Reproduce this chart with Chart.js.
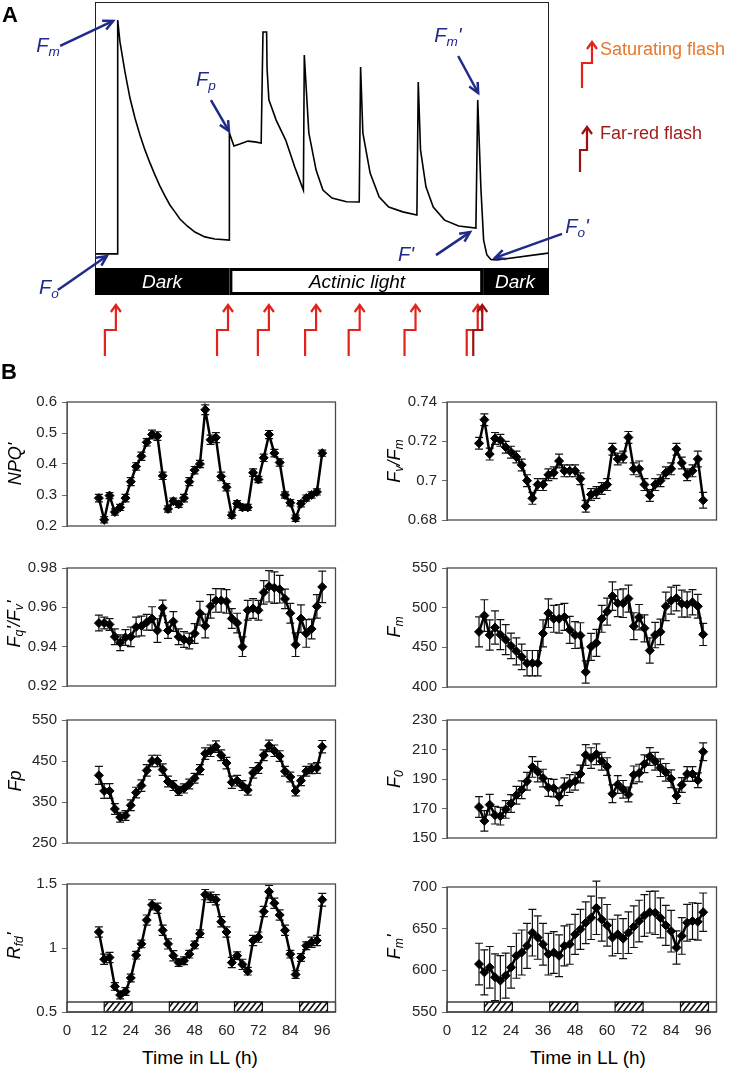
<!DOCTYPE html>
<html lang="en">
<head>
<meta charset="UTF-8" />
<meta name="viewport" content="width=device-width, initial-scale=1.0" />
<title>Chlorophyll fluorescence under LL</title>
<script src="https://cdn.jsdelivr.net/npm/chart.js@4.4.1/dist/chart.umd.min.js"></script>
<style>
  body { margin: 0; background: #fff; }
  #page { position: relative; width: 734px; height: 1077px; overflow: hidden; font-family: "Liberation Sans", Arial, sans-serif; color: #000; }
  #page canvas { position: absolute; }
  .txt { position: absolute; white-space: nowrap; line-height: 1; transform: translate(-50%, -50%); }
  .panel { font-size: 22px; font-weight: bold; }
  .ann { font-size: 20px; font-style: italic; color: #1f2a8a; }
  .ann sub, .ytitle sub { font-size: 0.68em; vertical-align: -0.3em; }
  .phase { font-size: 19px; font-style: italic; }
  .legend { position: absolute; font-size: 18px; white-space: nowrap; line-height: 1; transform: translateY(-50%); }
  .ytitle { font-size: 18px; font-style: italic; transform: translate(-50%, -50%) rotate(-90deg); }
  .xtitle { font-size: 19px; }
</style>
</head>
<body>
<div id="page">
  <canvas id="trace" width="734" height="372" style="left:0;top:0"></canvas>

  <canvas id="cNpq" width="324" height="152" style="left:17px;top:388px"></canvas>
  <canvas id="cFvFm" width="325" height="146" style="left:397px;top:388px"></canvas>
  <canvas id="cFqFv" width="324" height="146" style="left:17px;top:554px"></canvas>
  <canvas id="cFm" width="325" height="147" style="left:397px;top:554px"></canvas>
  <canvas id="cFp" width="324" height="151" style="left:17px;top:706px"></canvas>
  <canvas id="cF0" width="325" height="146" style="left:397px;top:706px"></canvas>
  <canvas id="cRfd" width="324" height="174" style="left:17px;top:870px"></canvas>
  <canvas id="cFmp" width="325" height="171" style="left:397px;top:873px"></canvas>

  <!-- panel A texts -->
  <div class="txt panel" style="left:10px;top:15px">A</div>
  <div class="txt ann" style="left:48px;top:47px">F<sub>m</sub></div>
  <div class="txt ann" style="left:206px;top:81px">F<sub>p</sub></div>
  <div class="txt ann" style="left:448px;top:37px">F<sub>m</sub>'</div>
  <div class="txt ann" style="left:406px;top:254px">F'</div>
  <div class="txt ann" style="left:577px;top:228px">F<sub>o</sub>'</div>
  <div class="txt ann" style="left:49px;top:289px">F<sub>o</sub></div>
  <div class="txt phase" style="left:162px;top:281px;color:#fff">Dark</div>
  <div class="txt phase" style="left:357px;top:281px">Actinic light</div>
  <div class="txt phase" style="left:515px;top:281px;color:#fff">Dark</div>
  <div class="legend" style="left:600px;top:49px;color:#e8762b">Saturating flash</div>
  <div class="legend" style="left:600px;top:133px;color:#9e1b1b">Far-red flash</div>

  <!-- panel B texts -->
  <div class="txt panel" style="left:9px;top:372px">B</div>
  <div class="txt ytitle" style="left:15px;top:464px">NPQ'</div>
  <div class="txt ytitle" style="left:395px;top:461px">F<sub>v</sub>/F<sub>m</sub></div>
  <div class="txt ytitle" style="left:15px;top:624px">F<sub>q</sub>'/F<sub>v</sub>'</div>
  <div class="txt ytitle" style="left:395px;top:627px">F<sub>m</sub></div>
  <div class="txt ytitle" style="left:15px;top:781px">Fp</div>
  <div class="txt ytitle" style="left:395px;top:779px">F<sub>0</sub></div>
  <div class="txt ytitle" style="left:15px;top:946px">R<sub>fd</sub>'</div>
  <div class="txt ytitle" style="left:395px;top:947px">F<sub>m</sub>'</div>
  <div class="txt xtitle" style="left:200px;top:1057px">Time in LL (h)</div>
  <div class="txt xtitle" style="left:588px;top:1057px">Time in LL (h)</div>
</div>

<script>
// ---- panel A: fluorescence trace (arbitrary time / signal units) ----
const traceTime = [0, 5, 5, 5.5, 6.6, 7.7, 8.8, 9.9, 11, 12.1, 13.2, 14.3, 15.4, 16.5, 17.6, 18.7, 20.3, 22, 24.2, 26.4,
  29.6, 29.6, 30.6, 31.9, 33.7, 35.2, 36.6, 37, 37.8, 37.9, 38.3, 39.9, 42, 44, 45.9,
  46.1, 47.1, 48.7, 50.2, 52.2, 55.4, 58.2, 58.5, 59, 60.6, 62.6, 64.7, 67.8, 70.9,
  71.2, 71.7, 72.9, 74.5, 77, 80.1, 83.9, 84.3, 85, 85.6, 86.3, 87.2, 88.5, 99.8];
const traceSignal = [5.3, 5.3, 93.2, 85, 73.7, 63.9, 56.4, 50, 44.4, 39.5, 35, 30.8, 27.1, 23.7, 21.1, 18.4, 15.8, 13.5, 11.7, 10.9,
  10.5, 50.8, 45.9, 46.6, 47.7, 47.4, 47, 88.7, 88.7, 75, 63.2, 55.6, 48.1, 38, 29.3,
  80.1, 50.8, 36.8, 29.3, 26.3, 24.9, 24.8, 75.6, 50.8, 35.7, 26.7, 22.9, 21.1, 19.9,
  69.9, 44.4, 30.5, 22.9, 18, 15.8, 15, 63.2, 30, 10.5, 5, 3.2, 3, 5.6];
const phaseStart = [0, 29.6, 85.5];
const phaseEnd = [29.6, 85.5, 100];
const phaseDark = [true, false, true];
const flashTimes = [4.6, 29.3, 38.3, 48.7, 58.3, 70.6, 84.3];
const farRedTimes = [85.3];
// labelled points: Fm, Fp, Fm', F', Fo', Fo
const pointerTime = [4.0, 29.5, 84.4, 82.6, 88.1, 2.6];
const pointerSignal = [92.9, 51.5, 65.8, 13.5, 3.8, 4.5];

// ---- panel B: time courses in LL ----
const hours = [12, 14, 16, 18, 20, 22, 24, 26, 28, 30, 32, 34, 36, 38, 40, 42, 44, 46, 48, 50, 52, 54,
  56, 58, 60, 62, 64, 66, 68, 70, 72, 74, 76, 78, 80, 82, 84, 86, 88, 90, 92, 94, 96];
const xTicks = [0, 12, 24, 36, 48, 60, 72, 84, 96];
const nightStart = [14, 38.5, 63, 87.5];
const nightEnd = [24.5, 49, 73.5, 98];

const npq = [0.29, 0.22, 0.298, 0.245, 0.26, 0.29, 0.343, 0.392, 0.425, 0.47, 0.495, 0.49, 0.362, 0.255, 0.28,
  0.27, 0.29, 0.343, 0.38, 0.40, 0.575, 0.478, 0.485, 0.36, 0.325, 0.235, 0.272, 0.26, 0.26, 0.372, 0.35,
  0.42, 0.495, 0.435, 0.405, 0.30, 0.275, 0.225, 0.272, 0.29, 0.30, 0.31, 0.435];
const npqErr = [0.012, 0.01, 0.01, 0.01, 0.01, 0.012, 0.013, 0.012, 0.013, 0.012, 0.014, 0.014, 0.012, 0.01, 0.01,
  0.01, 0.012, 0.013, 0.012, 0.012, 0.016, 0.015, 0.016, 0.014, 0.012, 0.01, 0.01, 0.01, 0.01, 0.012, 0.01,
  0.012, 0.013, 0.012, 0.012, 0.01, 0.01, 0.01, 0.01, 0.01, 0.01, 0.01, 0.01];
const npqTicks = [0.2, 0.3, 0.4, 0.5, 0.6];

const fvfm = [0.719, 0.731, 0.7135, 0.7215, 0.7205, 0.717, 0.7145, 0.712, 0.708, 0.700, 0.691, 0.698, 0.698, 0.703,
  0.704, 0.710, 0.705, 0.705, 0.705, 0.701, 0.687, 0.693, 0.694, 0.696, 0.698, 0.716, 0.711, 0.712, 0.722,
  0.706, 0.706, 0.698, 0.6925, 0.698, 0.700, 0.704, 0.706, 0.716, 0.709, 0.703, 0.705, 0.711, 0.690];
const fvfmErr = [0.003, 0.003, 0.003, 0.003, 0.003, 0.003, 0.003, 0.003, 0.003, 0.003, 0.003, 0.003, 0.003, 0.003,
  0.003, 0.0035, 0.003, 0.003, 0.003, 0.003, 0.003, 0.003, 0.003, 0.003, 0.003, 0.003, 0.003, 0.003, 0.003,
  0.003, 0.004, 0.003, 0.003, 0.003, 0.003, 0.003, 0.003, 0.003, 0.003, 0.003, 0.003, 0.004, 0.004];
const fvfmTicks = [0.68, 0.7, 0.72, 0.74];

const fqfv = [0.952, 0.952, 0.9513, 0.945, 0.942, 0.9447, 0.945, 0.950, 0.9505, 0.9524, 0.9543, 0.9482, 0.9597,
  0.9482, 0.9528, 0.945, 0.9436, 0.9429, 0.9467, 0.957, 0.9505, 0.9605, 0.9635, 0.9635, 0.963, 0.9543, 0.952,
  0.940, 0.9585, 0.9594, 0.9585, 0.9676, 0.9707, 0.970, 0.9692, 0.9643, 0.957, 0.941, 0.9543, 0.9467, 0.949,
  0.9605, 0.9704];
const fqfvErr = [0.004, 0.003, 0.003, 0.004, 0.004, 0.004, 0.005, 0.005, 0.005, 0.004, 0.006, 0.006, 0.004, 0.004,
  0.005, 0.004, 0.004, 0.004, 0.005, 0.006, 0.006, 0.006, 0.006, 0.006, 0.006, 0.005, 0.005, 0.005, 0.005,
  0.005, 0.005, 0.006, 0.008, 0.008, 0.007, 0.005, 0.005, 0.006, 0.007, 0.007, 0.005, 0.006, 0.008];
const fqfvTicks = [0.92, 0.94, 0.96, 0.98];

const fm = [469.5, 490, 465.5, 475, 466, 459.7, 451.8, 445, 438, 430, 430, 430, 467.5, 493, 486, 486, 488.3, 472,
  465.5, 465, 419, 450.6, 455.7, 486, 495, 514.6, 505.6, 505.6, 511.5, 476.6, 488, 474, 446, 465.5, 469.5,
  501.7, 508.8, 512, 505, 504, 506.8, 501.7, 466.3];
const fmErr = [19, 20, 19, 21, 19, 19, 16, 17, 16, 16, 16, 16, 17, 18, 17, 18, 17, 17, 17, 16, 14, 17, 17, 17,
  17, 18, 17, 18, 17, 17, 16, 17, 16, 16, 16, 18, 17, 16, 17, 16, 16, 15, 14];
const fmTicks = [400, 450, 500, 550];

const fp = [415, 377, 377, 333, 313, 317, 342, 373, 390, 427, 450, 450, 429, 400, 390, 377, 383, 394, 408, 429,
  468, 475, 485, 464, 445, 398, 402, 390, 379, 421, 433, 464, 487, 475, 462, 425, 411, 377, 402, 425, 431, 433, 485];
const fpErr = [22, 18, 18, 13, 12, 12, 13, 13, 14, 14, 14, 14, 14, 13, 12, 11, 11, 12, 12, 12, 14, 14, 14, 13,
  14, 15, 13, 12, 12, 13, 13, 13, 14, 14, 13, 12, 12, 12, 12, 12, 12, 13, 15];
const fpTicks = [250, 350, 450, 550];

const f0 = [171, 161.6, 172.6, 165.5, 164.8, 169.4, 173.4, 179, 182.7, 188.5, 198.2, 195, 190.6, 184.2, 183.8,
  178, 184.8, 187, 188.5, 193.4, 206.3, 204.2, 206.8, 202, 198.4, 180, 186.3, 183, 179.5, 192.8, 194, 200.3,
  205.3, 202, 197.7, 194.5, 190.2, 178.4, 186, 193.4, 193.4, 189.1, 208.5];
const f0Err = [7, 7, 7, 6, 6, 6, 6, 6, 6, 6, 7, 7, 6, 6, 6, 6, 6, 6, 6, 6, 7, 7, 7, 6, 6, 6, 6, 6, 5, 6, 6, 6,
  6, 6, 6, 6, 6, 5, 5, 5, 5, 5, 6];
const f0Ticks = [150, 170, 190, 210, 230];

const rfd = [1.125, 0.912, 0.926, 0.70, 0.633, 0.66, 0.766, 0.944, 1.032, 1.218, 1.337, 1.311, 1.138, 1.032, 0.94,
  0.886, 0.90, 0.952, 1.024, 1.112, 1.417, 1.396, 1.377, 1.205, 1.125, 0.886, 0.94, 0.872, 0.819, 1.058, 1.085,
  1.285, 1.44, 1.35, 1.258, 1.138, 0.952, 0.793, 0.926, 1.018, 1.045, 1.058, 1.377];
const rfdErr = [0.04, 0.04, 0.04, 0.03, 0.03, 0.03, 0.03, 0.03, 0.03, 0.04, 0.04, 0.04, 0.04, 0.04, 0.04, 0.03,
  0.03, 0.03, 0.03, 0.03, 0.04, 0.04, 0.04, 0.04, 0.04, 0.04, 0.03, 0.04, 0.03, 0.04, 0.04, 0.04, 0.05, 0.04,
  0.04, 0.04, 0.03, 0.03, 0.03, 0.03, 0.04, 0.04, 0.05];
const rfdTicks = [0.5, 1, 1.5];

const fmp = [607.5, 597.6, 603.6, 591.7, 587.7, 593.7, 603.6, 617.5, 621.4, 629.4, 645.2, 639.3, 631.3, 619.4,
  621.4, 617.5, 629.4, 631.3, 643.2, 649.2, 657.1, 663, 675, 661, 654, 639.3, 643.2, 638, 645.2, 652.4, 659.1,
  665.8, 669.8, 669, 663, 654, 647, 627.4, 641.3, 657.1, 659.1, 658.3, 669.8];
const fmpErr = [25, 27, 25, 28, 30, 27, 25, 27, 27, 27, 28, 26, 25, 25, 25, 25, 24, 24, 24, 24, 25, 26, 32, 26,
  25, 22, 23, 24, 25, 25, 25, 25, 25, 26, 24, 24, 25, 20, 22, 22, 22, 22, 23];
const fmpTicks = [550, 600, 650, 700];

Chart.defaults.font.family = "'Liberation Sans', Arial, sans-serif";

const RED = '#e3231b';
const DARK_RED = '#9b1111';
const NAVY = '#1f2a8a';
const AXIS_GREY = '#6b6b6b';

function stepArrow(ctx, x, top, step, bottom, off, color) {
  ctx.save();
  ctx.strokeStyle = color;
  ctx.lineWidth = 2.2;
  ctx.beginPath();
  ctx.moveTo(x - off, bottom);
  ctx.lineTo(x - off, step);
  ctx.lineTo(x, step);
  ctx.lineTo(x, top + 1);
  ctx.stroke();
  ctx.beginPath();
  ctx.moveTo(x - 5, top + 7);
  ctx.lineTo(x, top);
  ctx.lineTo(x + 5, top + 7);
  ctx.stroke();
  ctx.restore();
}

function pointer(ctx, x0, y0, x1, y1) {
  const a = Math.atan2(y1 - y0, x1 - x0), len = 11, spread = 0.45;
  ctx.beginPath();
  ctx.moveTo(x0, y0);
  ctx.lineTo(x1, y1);
  ctx.stroke();
  ctx.beginPath();
  ctx.moveTo(x1 - len * Math.cos(a - spread), y1 - len * Math.sin(a - spread));
  ctx.lineTo(x1, y1);
  ctx.lineTo(x1 - len * Math.cos(a + spread), y1 - len * Math.sin(a + spread));
  ctx.stroke();
}

// box, light regime bar, flash arrows and labelled pointers for panel A
const protocolPlugin = {
  id: 'protocol',
  afterDatasetsDraw(chart) {
    const { ctx, chartArea: area, scales: { x, y } } = chart;
    ctx.save();
    ctx.strokeStyle = '#222';
    ctx.lineWidth = 1;
    ctx.strokeRect(area.left + 0.5, area.top + 0.5, area.width - 1, area.height);

    const barTop = area.bottom, barH = 27;
    phaseStart.forEach((s, i) => {
      const x0 = x.getPixelForValue(s), x1 = x.getPixelForValue(phaseEnd[i]);
      if (phaseDark[i]) {
        ctx.fillStyle = '#000';
        ctx.fillRect(x0, barTop, x1 - x0, barH);
      } else {
        ctx.fillStyle = '#fff';
        ctx.fillRect(x0, barTop, x1 - x0, barH);
        ctx.strokeStyle = '#000';
        ctx.lineWidth = 3;
        ctx.strokeRect(x0 + 1.5, barTop + 1.5, x1 - x0 - 3, barH - 3);
      }
    });

    flashTimes.forEach(t => stepArrow(ctx, x.getPixelForValue(t), barTop + 37, barTop + 62, barTop + 88, 11, RED));
    farRedTimes.forEach(t => stepArrow(ctx, x.getPixelForValue(t), barTop + 37, barTop + 62, barTop + 88, 9, DARK_RED));

    // legend symbols
    stepArrow(ctx, 592, 42, 63, 88, 10, RED);
    stepArrow(ctx, 587, 127, 150, 172, 7, DARK_RED);

    ctx.strokeStyle = NAVY;
    ctx.lineWidth = 2.5;
    const tailDx = [-53, -18, -20, -34, 67, -49];
    const tailDy = [25, -31, -37, 23, -24, 34];
    pointerTime.forEach((t, i) => {
      const px = x.getPixelForValue(t), py = y.getPixelForValue(pointerSignal[i]);
      pointer(ctx, px + tailDx[i], py + tailDy[i], px, py);
    });
    ctx.restore();
  }
};

new Chart(document.getElementById('trace'), {
  type: 'line',
  data: {
    datasets: [{
      data: traceTime.map((t, i) => ({ x: t, y: traceSignal[i] })),
      borderColor: '#000',
      borderWidth: 1.6,
      pointRadius: 0,
      tension: 0,
      fill: false
    }]
  },
  options: {
    responsive: false,
    animation: false,
    devicePixelRatio: 1,
    layout: { padding: { left: 95, right: 185, top: 2, bottom: 104 } },
    plugins: { legend: { display: false }, tooltip: { enabled: false } },
    scales: {
      x: { type: 'linear', min: 0, max: 100, display: false },
      y: { min: 0, max: 100, display: false }
    }
  },
  plugins: [protocolPlugin]
});

// ---- panel B helpers ----
const errorBarPlugin = {
  id: 'errorBars',
  beforeDatasetsDraw(chart, args, opts) {
    const err = opts.errors;
    if (!err) return;
    const { ctx, scales: { x, y } } = chart;
    ctx.save();
    ctx.strokeStyle = '#111';
    ctx.lineWidth = 1.2;
    chart.data.datasets[0].data.forEach((p, i) => {
      const px = x.getPixelForValue(p.x);
      const yt = y.getPixelForValue(p.y + err[i]);
      const yb = y.getPixelForValue(p.y - err[i]);
      ctx.beginPath();
      ctx.moveTo(px, yt); ctx.lineTo(px, yb);
      ctx.moveTo(px - 4, yt); ctx.lineTo(px + 4, yt);
      ctx.moveTo(px - 4, yb); ctx.lineTo(px + 4, yb);
      ctx.stroke();
    });
    ctx.restore();
  }
};

// white/hatched bar marking subjective day and night
const llBarPlugin = {
  id: 'llBar',
  afterDatasetsDraw(chart, args, opts) {
    if (!opts.show) return;
    const { ctx, chartArea: a, scales: { x } } = chart;
    const h = 10, top = a.bottom - h;
    ctx.save();
    ctx.fillStyle = '#fff';
    ctx.fillRect(a.left, top, a.width, h);
    ctx.strokeStyle = '#111';
    ctx.lineWidth = 1.2;
    ctx.strokeRect(a.left, top, a.width, h);
    nightStart.forEach((s, i) => {
      const x0 = x.getPixelForValue(s), x1 = x.getPixelForValue(nightEnd[i]);
      ctx.save();
      ctx.beginPath();
      ctx.rect(x0, top, x1 - x0, h);
      ctx.clip();
      ctx.beginPath();
      for (let sx = x0 - h; sx < x1 + h; sx += 6) {
        ctx.moveTo(sx, a.bottom);
        ctx.lineTo(sx + 8, top);
      }
      ctx.lineWidth = 1.6;
      ctx.stroke();
      ctx.restore();
      ctx.strokeRect(x0, top, x1 - x0, h);
    });
    ctx.restore();
  }
};

const framePlugin = {
  id: 'frame',
  afterDraw(chart) {
    const { ctx, chartArea: a } = chart;
    ctx.save();
    ctx.strokeStyle = '#4a4a4a';
    ctx.lineWidth = 1.3;
    ctx.strokeRect(a.left, a.top, a.width, a.height);
    ctx.restore();
  }
};

function seriesChart(id, values, errors, yMin, yMax, yTicks, bottomRow) {
  return new Chart(document.getElementById(id), {
    type: 'line',
    data: {
      datasets: [{
        data: hours.map((h, i) => ({ x: h, y: values[i] })),
        borderColor: '#000',
        borderWidth: 2.5,
        pointStyle: 'rectRot',
        pointRadius: 4.5,
        pointBackgroundColor: '#000',
        pointBorderColor: '#000',
        pointBorderWidth: 1,
        tension: 0
      }]
    },
    options: {
      responsive: false,
      animation: false,
      devicePixelRatio: 1,
      layout: { padding: { left: 0, right: 4, top: 10, bottom: bottomRow ? 2 : 10 } },
      plugins: {
        legend: { display: false },
        tooltip: { enabled: false },
        errorBars: { errors: errors },
        llBar: { show: bottomRow }
      },
      scales: {
        x: {
          type: 'linear', min: 0, max: 101, display: bottomRow,
          grid: { display: false, drawTicks: false },
          border: { display: false },
          ticks: { color: '#262626', font: { size: 15 }, padding: 10, maxRotation: 0, callback: v => String(v) },
          afterBuildTicks: s => { s.ticks = xTicks.map(v => ({ value: v })); },
          afterFit: s => { if (bottomRow) s.height = 30; }
        },
        y: {
          min: yMin, max: yMax,
          grid: { drawOnChartArea: false, drawTicks: true, tickLength: 5, color: AXIS_GREY, lineWidth: 1 },
          border: { color: AXIS_GREY, width: 1 },
          ticks: { color: '#262626', font: { size: 15 }, padding: 5, callback: v => String(v) },
          afterBuildTicks: s => { s.ticks = yTicks.map(v => ({ value: v })); },
          afterFit: s => { s.width = 50; }
        }
      }
    },
    plugins: [errorBarPlugin, llBarPlugin, framePlugin]
  });
}

seriesChart('cNpq', npq, npqErr, 0.2, 0.6, npqTicks, false);
seriesChart('cFvFm', fvfm, fvfmErr, 0.68, 0.74, fvfmTicks, false);
seriesChart('cFqFv', fqfv, fqfvErr, 0.92, 0.98, fqfvTicks, false);
seriesChart('cFm', fm, fmErr, 400, 550, fmTicks, false);
seriesChart('cFp', fp, fpErr, 250, 550, fpTicks, false);
seriesChart('cF0', f0, f0Err, 150, 230, f0Ticks, false);
seriesChart('cRfd', rfd, rfdErr, 0.5, 1.5, rfdTicks, true);
seriesChart('cFmp', fmp, fmpErr, 550, 700, fmpTicks, true);
</script>
</body>
</html>
